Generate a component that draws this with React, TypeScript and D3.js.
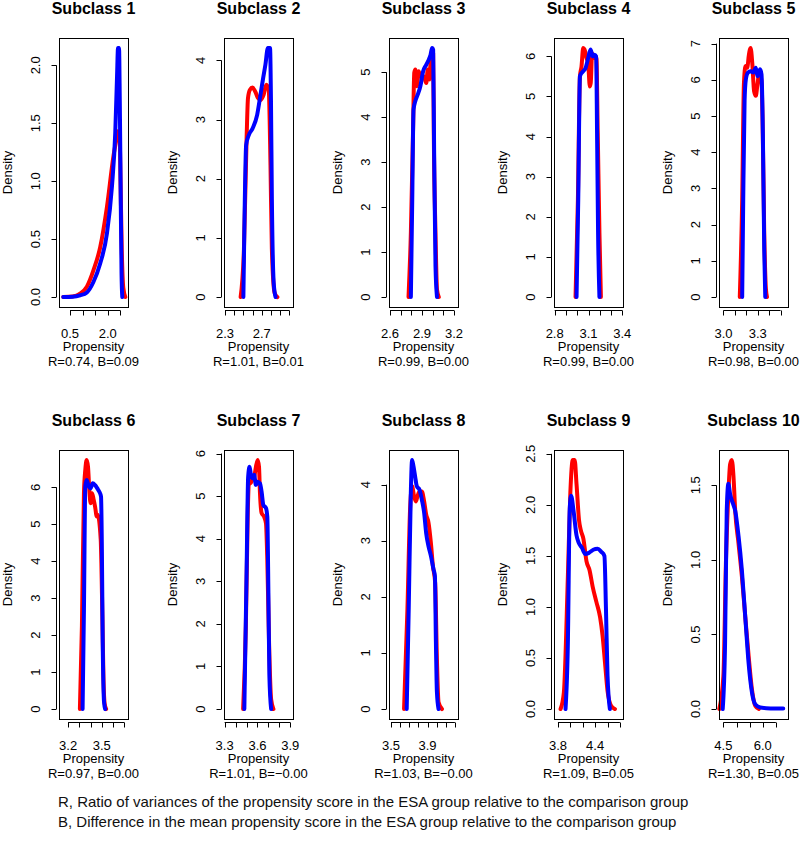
import { useEffect, useRef } from "react";
import * as d3 from "d3";

type Pt = [number, number];

// density curves: red = ESA group, blue = comparison group
const esa1: Pt[] = [[0.23, 0], [0.6, 0.005], [0.9, 0.03], [1.17, 0.09], [1.43, 0.23], [1.7, 0.43], [1.97, 0.78], [2.23, 1.22], [2.34, 1.36], [2.39, 1.43], [2.47, 1.42], [2.51, 1.0], [2.56, 0.4], [2.62, 0.08], [2.7, 0]];
const cmp1: Pt[] = [[0.23, 0], [0.6, 0.003], [0.9, 0.015], [1.17, 0.04], [1.43, 0.13], [1.7, 0.29], [1.97, 0.55], [2.17, 0.96], [2.3, 1.42], [2.37, 1.9], [2.41, 2.15], [2.45, 2.15], [2.48, 1.7], [2.52, 0.8], [2.55, 0.2], [2.58, 0]];

const esa2: Pt[] = [[2.47, 0], [2.506, 0.81], [2.535, 2.68], [2.55, 3.36], [2.57, 3.5], [2.6, 3.54], [2.63, 3.47], [2.66, 3.36], [2.686, 3.33], [2.72, 3.42], [2.75, 3.59], [2.776, 3.5], [2.795, 2.23], [2.81, 0.81], [2.84, 0.07], [2.87, 0]];
const cmp2: Pt[] = [[2.5, 0], [2.51, 1.09], [2.53, 2.57], [2.56, 2.74], [2.6, 2.85], [2.65, 3.08], [2.686, 3.42], [2.715, 3.7], [2.74, 3.93], [2.766, 4.21], [2.79, 4.21], [2.8, 3.36], [2.81, 1.66], [2.83, 0.24], [2.85, 0]];

const esa3: Pt[] = [[2.773, 0], [2.795, 1.43], [2.815, 3.65], [2.827, 4.99], [2.837, 5.06], [2.852, 4.69], [2.868, 5.02], [2.884, 4.91], [2.915, 4.91], [2.94, 4.76], [2.953, 5.06], [2.97, 4.84], [2.985, 5.43], [3.004, 5.43], [3.01, 3.65], [3.026, 1.43], [3.04, 0.17], [3.057, 0]];
const cmp3: Pt[] = [[2.795, 0], [2.808, 2.17], [2.82, 4.17], [2.837, 4.36], [2.859, 4.5], [2.884, 4.69], [2.91, 5.02], [2.94, 5.17], [2.963, 5.28], [2.98, 5.39], [2.994, 5.54], [3.004, 5.5], [3.013, 3.28], [3.026, 0.69], [3.04, 0]];

const esa4: Pt[] = [[2.985, 0], [3.006, 2.43], [3.024, 5.5], [3.038, 5.75], [3.053, 6.21], [3.065, 6.17], [3.082, 5.96], [3.097, 5.83], [3.112, 5.25], [3.12, 5.34], [3.132, 6.08], [3.147, 5.96], [3.17, 5.96], [3.182, 4.09], [3.197, 1.6], [3.21, 0]];
const cmp4: Pt[] = [[2.994, 0], [3.009, 2.43], [3.024, 5.5], [3.029, 5.54], [3.053, 5.63], [3.074, 5.71], [3.094, 5.92], [3.118, 6.17], [3.138, 6.0], [3.153, 6.04], [3.168, 6.0], [3.176, 4.09], [3.185, 1.6], [3.197, 0]];

const esa5: Pt[] = [[3.143, 0], [3.164, 2.68], [3.179, 5.88], [3.193, 6.38], [3.208, 6.33], [3.223, 6.7], [3.238, 6.88], [3.253, 6.43], [3.268, 5.69], [3.283, 5.56], [3.298, 5.88], [3.313, 6.2], [3.333, 5.97], [3.342, 4.96], [3.357, 1.76], [3.372, 0.21], [3.381, 0]];
const cmp5: Pt[] = [[3.164, 0], [3.173, 2.68], [3.185, 5.42], [3.196, 6.01], [3.214, 6.2], [3.238, 6.24], [3.262, 6.2], [3.283, 6.33], [3.298, 6.1], [3.321, 6.29], [3.333, 6.15], [3.345, 4.51], [3.357, 1.31], [3.366, 0]];

const esa6: Pt[] = [[3.305, 0], [3.323, 2.25], [3.341, 5.84], [3.353, 6.47], [3.365, 6.74], [3.377, 6.56], [3.389, 5.93], [3.4, 5.57], [3.413, 5.84], [3.425, 5.7], [3.44, 5.48], [3.455, 5.21], [3.463, 5.26], [3.49, 4.6], [3.505, 2.5], [3.515, 0.8], [3.525, 0.15], [3.538, 0]];
const cmp6: Pt[] = [[3.329, 0], [3.341, 2.7], [3.353, 6.02], [3.365, 6.2], [3.38, 6.06], [3.4, 5.97], [3.419, 6.11], [3.44, 6.06], [3.46, 5.97], [3.478, 5.88], [3.493, 5.75], [3.5, 4.49], [3.508, 1.8], [3.52, 0.18], [3.53, 0]];

const esa7: Pt[] = [[3.469, 0], [3.494, 1.95], [3.512, 4.68], [3.525, 5.46], [3.537, 5.3], [3.552, 5.38], [3.571, 5.46], [3.586, 5.69], [3.602, 5.85], [3.614, 5.69], [3.623, 5.07], [3.638, 4.6], [3.66, 4.52], [3.678, 4.36], [3.69, 3.51], [3.706, 1.56], [3.725, 0.23], [3.746, 0]];
const cmp7: Pt[] = [[3.48, 0], [3.5, 3.12], [3.515, 5.46], [3.528, 5.69], [3.54, 5.5], [3.555, 5.42], [3.57, 5.5], [3.586, 5.26], [3.6, 5.34], [3.623, 5.3], [3.638, 5.1], [3.654, 4.79], [3.678, 4.72], [3.69, 4.52], [3.7, 2.73], [3.709, 0.78], [3.725, 0]];

const esa8: Pt[] = [[3.643, 0], [3.68, 1.78], [3.709, 3.56], [3.731, 3.97], [3.753, 3.79], [3.772, 3.7], [3.79, 3.79], [3.812, 3.88], [3.838, 3.88], [3.863, 3.7], [3.885, 3.47], [3.911, 3.32], [3.937, 2.96], [3.959, 2.55], [3.984, 2.25], [4.003, 0.89], [4.021, 0.12], [4.058, 0]];
const cmp8: Pt[] = [[3.672, 0], [3.694, 1.78], [3.717, 3.85], [3.731, 4.44], [3.746, 4.33], [3.764, 4.15], [3.783, 3.97], [3.812, 3.91], [3.838, 3.73], [3.863, 3.5], [3.885, 3.14], [3.911, 2.9], [3.937, 2.73], [3.966, 2.49], [3.981, 2.37], [3.992, 1.19], [4.003, 0.3], [4.021, 0]];

const esa9: Pt[] = [[3.842, 0], [3.895, 0.16], [3.96, 1.3], [4.0, 2.12], [4.039, 2.44], [4.07, 2.44], [4.1, 2.2], [4.14, 1.85], [4.17, 1.75], [4.21, 1.67], [4.26, 1.45], [4.31, 1.36], [4.36, 1.2], [4.42, 1.05], [4.48, 0.9], [4.52, 0.72], [4.56, 0.45], [4.6, 0.18], [4.66, 0.03], [4.72, 0]];
const cmp9: Pt[] = [[3.922, 0], [3.96, 0.65], [3.99, 1.96], [4.012, 2.09], [4.05, 1.95], [4.1, 1.7], [4.134, 1.63], [4.187, 1.58], [4.24, 1.52], [4.3, 1.53], [4.37, 1.56], [4.44, 1.57], [4.5, 1.54], [4.55, 1.5], [4.575, 0.98], [4.6, 0.33], [4.638, 0]];

const esa10: Pt[] = [[4.346, 0], [4.5, 0.22], [4.6, 1.0], [4.69, 1.44], [4.756, 1.64], [4.82, 1.67], [4.885, 1.56], [4.95, 1.33], [5.077, 1.11], [5.205, 0.89], [5.333, 0.62], [5.46, 0.36], [5.59, 0.13], [5.72, 0.02], [5.85, 0]];
const cmp10: Pt[] = [[4.474, 0], [4.564, 0.44], [4.628, 1.33], [4.69, 1.51], [4.756, 1.44], [4.86, 1.38], [4.95, 1.33], [5.077, 1.16], [5.205, 0.93], [5.333, 0.62], [5.46, 0.31], [5.59, 0.11], [5.72, 0.03], [5.91, 0.01], [6.3, 0.004], [6.78, 0.004]];

const esaSeries = [esa1, esa2, esa3, esa4, esa5, esa6, esa7, esa8, esa9, esa10];
const cmpSeries = [cmp1, cmp2, cmp3, cmp4, cmp5, cmp6, cmp7, cmp8, cmp9, cmp10];

const titles = ["Subclass 1", "Subclass 2", "Subclass 3", "Subclass 4", "Subclass 5", "Subclass 6", "Subclass 7", "Subclass 8", "Subclass 9", "Subclass 10"];
const balance = ["R=0.74, B=0.09", "R=1.01, B=0.01", "R=0.99, B=0.00", "R=0.99, B=0.00", "R=0.98, B=0.00", "R=0.97, B=0.00", "R=1.01, B=\u22120.00", "R=1.03, B=\u22120.00", "R=1.09, B=0.05", "R=1.30, B=0.05"];

// x limits of each panel
const xLimits: [number, number][] = [[0.06, 2.807], [2.289, 3.04], [2.59, 3.237], [2.794, 3.406], [2.961, 3.565], [3.119, 3.733], [3.294, 3.925], [3.478, 4.234], [3.736, 4.85], [4.333, 6.962]];
const xTicks: number[][] = [
    [0.5, 1.0, 1.5, 2.0, 2.5],
    [2.3, 2.4, 2.5, 2.6, 2.7, 2.8, 2.9, 3.0],
    [2.6, 2.7, 2.8, 2.9, 3.0, 3.1, 3.2],
    [2.8, 2.9, 3.0, 3.1, 3.2, 3.3, 3.4],
    [3.0, 3.1, 3.2, 3.3, 3.4, 3.5],
    [3.2, 3.3, 3.4, 3.5, 3.6, 3.7],
    [3.3, 3.4, 3.5, 3.6, 3.7, 3.8, 3.9],
    [3.5, 3.6, 3.7, 3.8, 3.9, 4.0, 4.1, 4.2],
    [3.8, 4.0, 4.2, 4.4, 4.6, 4.8],
    [4.5, 5.0, 5.5, 6.0, 6.5],
];
// labels that survive R's overlap check
const xTickLabels: string[][] = [["0.5", "2.0"], ["2.3", "2.7"], ["2.6", "2.9", "3.2"], ["2.8", "3.1", "3.4"], ["3.0", "3.3"], ["3.2", "3.5"], ["3.3", "3.6", "3.9"], ["3.5", "3.9"], ["3.8", "4.4"], ["4.5", "6.0"]];
const yTickLabels: string[][] = [
    ["0.0", "0.5", "1.0", "1.5", "2.0"],
    ["0", "1", "2", "3", "4"],
    ["0", "1", "2", "3", "4", "5"],
    ["0", "1", "2", "3", "4", "5", "6"],
    ["0", "1", "2", "3", "4", "5", "6", "7"],
    ["0", "1", "2", "3", "4", "5", "6"],
    ["0", "1", "2", "3", "4", "5", "6"],
    ["0", "1", "2", "3", "4"],
    ["0.0", "0.5", "1.0", "1.5", "2.0", "2.5"],
    ["0.0", "0.5", "1.0", "1.5"],
];

const footnotes = [
    "R, Ratio of variances of the propensity score in the ESA group relative to the comparison group",
    "B, Difference in the mean propensity score in the ESA group relative to the comparison group",
];

export default function App() {
    const svgRef = useRef<SVGSVGElement | null>(null);

    useEffect(() => {
        if (!svgRef.current) return;
        const svg = d3.select(svgRef.current);
        svg.selectAll("*").remove();

        const width = 800;
        const height = 843;
        const font = "'Liberation Sans', Arial, Helvetica, sans-serif";
        const colW = 165;
        const rowH = 412;
        const boxW = 69;
        const boxH = 269;

        svg.append("rect").attr("width", width).attr("height", height).attr("fill", "#fff");

        const line = d3
            .line<Pt>()
            .curve(d3.curveMonotoneX);

        titles.forEach((title, i) => {
            const left = (i % 5) * colW + 59;
            const top = Math.floor(i / 5) * rowH + 38;
            const bottom = top + boxH;
            const cx = left + boxW / 2;
            const ymax = d3.max([...esaSeries[i], ...cmpSeries[i]], (d) => d[1]) as number;

            const x = d3.scaleLinear().domain(xLimits[i]).range([left, left + boxW]);
            const y = d3.scaleLinear().domain([-0.04 * ymax, 1.04 * ymax]).range([bottom, top]);
            line.x((d) => x(d[0])).y((d) => y(d[1]));

            const g = svg.append("g");

            // curves
            [esaSeries[i], cmpSeries[i]].forEach((s, k) => {
                g.append("path")
                    .attr("d", line(s) as string)
                    .attr("fill", "none")
                    .attr("stroke", k === 0 ? "#ff0000" : "#0000ff")
                    .attr("stroke-width", 4)
                    .attr("stroke-linejoin", "round")
                    .attr("stroke-linecap", "round");
            });

            // box
            g.append("rect")
                .attr("x", left + 0.5)
                .attr("y", top + 0.5)
                .attr("width", boxW)
                .attr("height", boxH)
                .attr("fill", "none")
                .attr("stroke", "#000");

            // x axis
            const ax = bottom + 3.5;
            const xt = xTicks[i];
            g.append("line")
                .attr("x1", x(xt[0])).attr("x2", x(xt[xt.length - 1]))
                .attr("y1", ax).attr("y2", ax)
                .attr("stroke", "#000");
            g.selectAll(".xt")
                .data(xt)
                .enter()
                .append("line")
                .attr("x1", (d) => Math.round(x(d)) + 0.5).attr("x2", (d) => Math.round(x(d)) + 0.5)
                .attr("y1", ax).attr("y2", ax + 5)
                .attr("stroke", "#000");
            g.selectAll(".xl")
                .data(xTickLabels[i])
                .enter()
                .append("text")
                .attr("x", (d) => x(+d))
                .attr("y", bottom + 30.5)
                .attr("text-anchor", "middle")
                .attr("font-family", font)
                .attr("font-size", 13)
                .text((d) => d);

            // y axis
            const yl = yTickLabels[i];
            const axy = left - 2.5;
            g.append("line")
                .attr("x1", axy).attr("x2", axy)
                .attr("y1", y(+yl[0])).attr("y2", y(+yl[yl.length - 1]))
                .attr("stroke", "#000");
            g.selectAll(".yt")
                .data(yl)
                .enter()
                .append("line")
                .attr("x1", axy).attr("x2", axy - 5)
                .attr("y1", (d) => Math.round(y(+d)) + 0.5).attr("y2", (d) => Math.round(y(+d)) + 0.5)
                .attr("stroke", "#000");
            g.selectAll(".yl")
                .data(yl)
                .enter()
                .append("text")
                .attr("transform", (d) => `translate(${left - 19},${y(+d)}) rotate(-90)`)
                .attr("text-anchor", "middle")
                .attr("font-family", font)
                .attr("font-size", 13)
                .text((d) => d);

            // titles and labels
            g.append("text")
                .attr("x", cx)
                .attr("y", top - 24)
                .attr("text-anchor", "middle")
                .attr("font-family", font)
                .attr("font-size", 16)
                .attr("font-weight", "bold")
                .text(title);
            g.append("text")
                .attr("transform", `translate(${left - 47},${top + boxH / 2}) rotate(-90)`)
                .attr("text-anchor", "middle")
                .attr("font-family", font)
                .attr("font-size", 13)
                .text("Density");
            g.append("text")
                .attr("x", cx)
                .attr("y", bottom + 44)
                .attr("text-anchor", "middle")
                .attr("font-family", font)
                .attr("font-size", 13)
                .text("Propensity");
            g.append("text")
                .attr("x", cx)
                .attr("y", bottom + 59)
                .attr("text-anchor", "middle")
                .attr("font-family", font)
                .attr("font-size", 13)
                .text(balance[i]);
        });

        // footnotes
        svg.selectAll(".note")
            .data(footnotes)
            .enter()
            .append("text")
            .attr("x", 58)
            .attr("y", (d, i) => 807 + i * 20)
            .attr("font-family", font)
            .attr("font-size", 15)
            .attr("fill", "#111")
            .text((d) => d);
    }, []);

    return <svg ref={svgRef} width={800} height={843} style={{ position: "absolute", left: 0, top: 0 }} />;
}
